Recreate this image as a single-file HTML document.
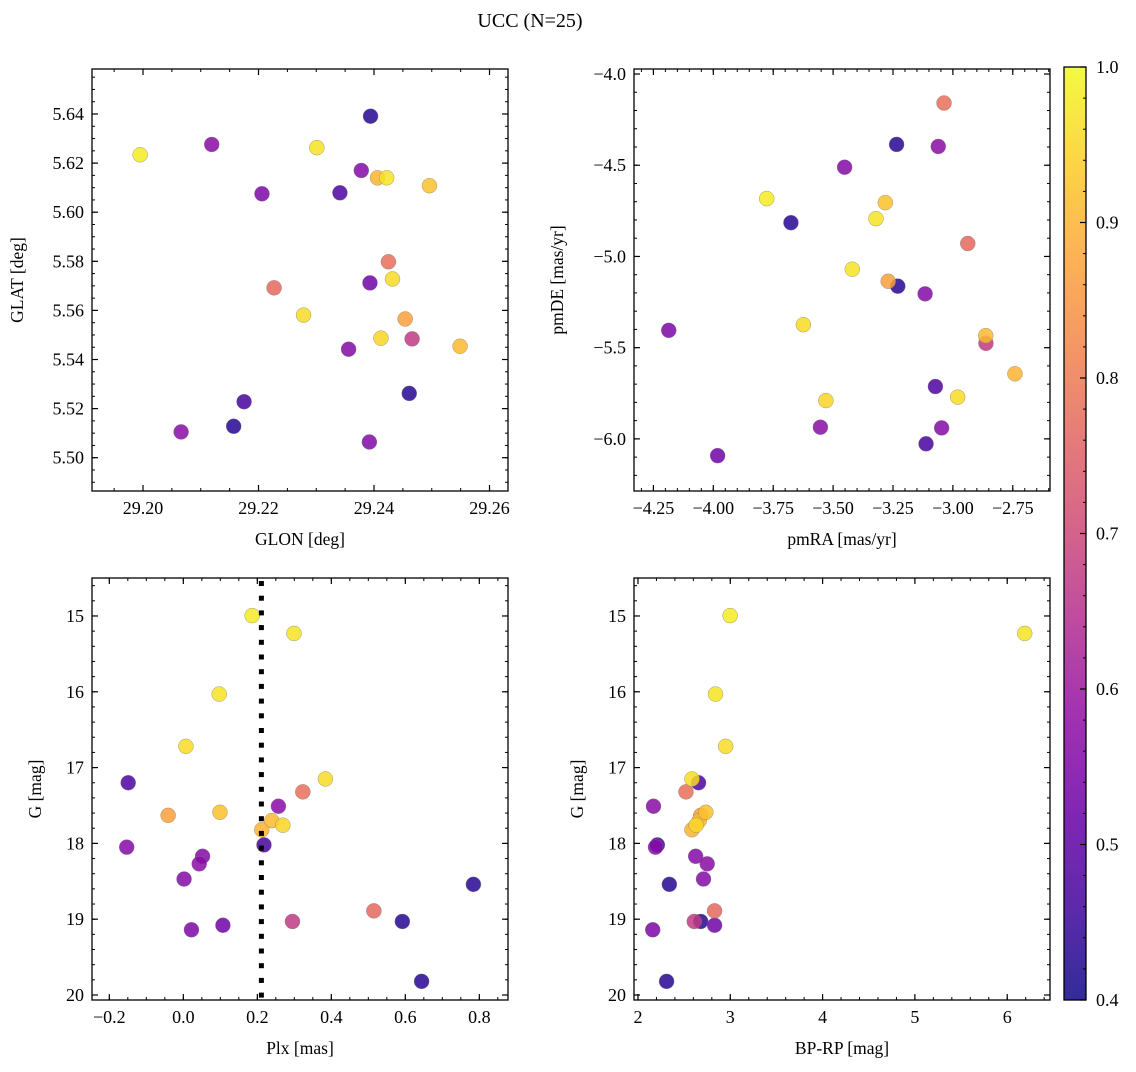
<!DOCTYPE html>
<html><head><meta charset="utf-8"><style>
html,body{margin:0;padding:0;background:#fff;}
svg text{font-family:"Liberation Serif",serif;fill:#000;}
</style></head><body>
<svg id="fig" width="1136" height="1067" viewBox="0 0 1136 1067" xmlns="http://www.w3.org/2000/svg">
<text x="530" y="27" font-size="20" text-anchor="middle">UCC (N=25)</text>
<defs>
<linearGradient id="cbgrad" x1="0" y1="1" x2="0" y2="0"></linearGradient>
</defs>
</svg>
<script>
// ---- data (one entry per star) ----
const glon = [29.1995,29.2301,29.2422,29.2432,29.2278,29.2412,29.2496,29.2549,29.2406,29.2454,29.2425,29.2227,29.2466,29.2119,29.2378,29.2356,29.2066,29.2392,29.2393,29.2206,29.2341,29.2175,29.2394,29.2461,29.2157];
const glat = [5.6234,5.6263,5.6140,5.5728,5.5581,5.5487,5.6108,5.5454,5.6140,5.5565,5.5798,5.5692,5.5484,5.6276,5.6170,5.5442,5.5105,5.5064,5.5712,5.6075,5.6079,5.5228,5.6391,5.5262,5.5128];
const pmra = [-3.777,-3.321,-3.420,-3.624,-2.980,-3.530,-3.282,-2.863,-2.741,-3.270,-3.037,-2.938,-2.862,-3.061,-3.452,-3.116,-3.553,-3.047,-3.982,-4.186,-3.073,-3.112,-3.235,-3.676,-3.230];
const pmde = [-4.683,-4.793,-5.070,-5.374,-5.771,-5.790,-4.705,-5.434,-5.643,-5.136,-4.159,-4.929,-5.476,-4.397,-4.511,-5.205,-5.936,-5.940,-6.092,-5.405,-5.713,-6.027,-4.386,-4.815,-5.163];
const plx = [0.186,0.299,0.097,0.007,0.384,0.269,0.099,0.239,0.212,-0.041,0.323,0.515,0.295,0.257,-0.153,0.052,0.043,0.002,0.107,0.022,-0.149,0.218,0.784,0.592,0.644];
const gmag = [14.995,15.23,16.03,16.72,17.15,17.76,17.59,17.70,17.82,17.63,17.32,18.89,19.03,17.51,18.05,18.17,18.27,18.47,19.08,19.14,17.20,18.02,18.54,19.03,19.82];
const bprp = [2.998,6.19,2.84,2.95,2.585,2.63,2.735,2.663,2.585,2.68,2.52,2.83,2.61,2.168,2.19,2.625,2.75,2.71,2.83,2.16,2.656,2.21,2.34,2.68,2.31];
const prob = [0.98,0.97,0.97,0.96,0.96,0.95,0.92,0.91,0.90,0.87,0.78,0.77,0.67,0.57,0.56,0.56,0.57,0.56,0.53,0.55,0.48,0.47,0.43,0.43,0.43];
const plxMedian = 0.211;
// tick labels
const tlXTicks = [29.20,29.22,29.24,29.26];
const tlYTicks = [5.50,5.52,5.54,5.56,5.58,5.60,5.62,5.64];
const trXTicks = [-4.25,-4.00,-3.75,-3.50,-3.25,-3.00,-2.75];
const trYTicks = [-6.0,-5.5,-5.0,-4.5,-4.0];
const blXTicks = [-0.2,0.0,0.2,0.4,0.6,0.8];
const gTicks = [15,16,17,18,19,20];
const brXTicks = [2,3,4,5,6];
const cbTicks = [0.4,0.5,0.6,0.7,0.8,0.9,1.0];

const NS="http://www.w3.org/2000/svg";
const svg=document.getElementById('fig');
function el(tag,attrs,parent){const e=document.createElementNS(NS,tag);for(const k in attrs)e.setAttribute(k,attrs[k]);(parent||svg).appendChild(e);return e;}

const stops=[[0,'#0d0887'],[0.1,'#41049d'],[0.2,'#6a00a8'],[0.3,'#8f0da4'],[0.4,'#b12a90'],[0.5,'#cc4778'],[0.6,'#e16462'],[0.7,'#f2844b'],[0.8,'#fca636'],[0.9,'#fcce25'],[1,'#f0f921']];
function hex(h){return [1,3,5].map(i=>parseInt(h.substr(i,2),16));}
function plasma(t){t=Math.max(0,Math.min(1,t));for(let i=0;i<stops.length-1;i++){const[a,ca]=stops[i],[b,cb]=stops[i+1];if(t<=b){const f=(t-a)/(b-a),A=hex(ca),B=hex(cb);return 'rgb('+A.map((v,j)=>Math.round(v+(B[j]-v)*f)).join(',')+')';}}return stops[10][1];}
const vmin=0.4,vmax=1.0;
function col(p){return plasma((p-vmin)/(vmax-vmin));}

function fmt(v,d){let s=v.toFixed(d);if(v<0)s='\u2212'+s.slice(1);if(Math.abs(v)<1e-9)s=(0).toFixed(d);return s;}
const FS=18;

function panel(o){
  const g=el('g',{});
  
  
  const X=v=>o.L+(v-o.xd[0])/(o.xd[1]-o.xd[0])*o.W;
  const Y=v=>o.inv? o.T+(v-o.yd[0])/(o.yd[1]-o.yd[0])*o.H : o.T+o.H-(v-o.yd[0])/(o.yd[1]-o.yd[0])*o.H;
  const idx=o.xs.map((_,i)=>i).sort((a,b)=>prob[a]-prob[b]);
  idx.forEach(i=>{const c=el('circle',{cx:X(o.xs[i]),cy:Y(o.ys[i]),r:7.5,fill:col(prob[i]),'fill-opacity':0.85,stroke:'#777','stroke-width':0.5,'stroke-opacity':0.7},g);
    
    });
  if(o.vline!==undefined){
    const lg=el('g',{},g);
    
    
    const lx=X(o.vline);
    for(let y=o.T+3;y<o.T+o.H;y+=14.7){el('rect',{x:lx-2.5,y:y,width:5,height:Math.min(5,o.T+o.H-y),fill:'#000'},lg);}
  }
  const fr=el('rect',{x:o.L,y:o.T,width:o.W,height:o.H,fill:'none',stroke:'#000','stroke-width':1.3},g);
  
  
  const mn=(a,b,s)=>{const r=[];for(let v=Math.ceil(a/s-1e-6)*s;v<=b+1e-9;v+=s)r.push(v);return r;};
  mn(o.xd[0],o.xd[1],o.xm).forEach(v=>{const x=X(v);el('line',{x1:x,x2:x,y1:o.T+o.H,y2:o.T+o.H-3,stroke:'#000','stroke-width':1},g);el('line',{x1:x,x2:x,y1:o.T,y2:o.T+3,stroke:'#000','stroke-width':1},g);});
  mn(Math.min(...o.yd),Math.max(...o.yd),o.ym).forEach(v=>{const y=Y(v);el('line',{x1:o.L,x2:o.L+3,y1:y,y2:y,stroke:'#000','stroke-width':1},g);el('line',{x1:o.L+o.W,x2:o.L+o.W-3,y1:y,y2:y,stroke:'#000','stroke-width':1},g);});
  o.xt.forEach(v=>{const x=X(v);el('line',{x1:x,x2:x,y1:o.T+o.H,y2:o.T+o.H-6,stroke:'#000','stroke-width':1.2},g);el('line',{x1:x,x2:x,y1:o.T,y2:o.T+6,stroke:'#000','stroke-width':1.2},g);
    const t=el('text',{x:x,y:o.T+o.H+23,'font-size':FS,'text-anchor':'middle'},g);t.textContent=fmt(v,o.xdp);
    
    });
  o.yt.forEach(v=>{const y=Y(v);el('line',{x1:o.L,x2:o.L+6,y1:y,y2:y,stroke:'#000','stroke-width':1.2},g);el('line',{x1:o.L+o.W,x2:o.L+o.W-6,y1:y,y2:y,stroke:'#000','stroke-width':1.2},g);
    const t=el('text',{x:o.L-8,y:y+6,'font-size':FS,'text-anchor':'end'},g);t.textContent=fmt(v,o.ydp);
    
    });
  const xl=el('text',{x:o.L+o.W/2,y:o.T+o.H+54,'font-size':17.5,'text-anchor':'middle'},g);xl.textContent=o.xlab;
  
  
  const yl=el('text',{x:0,y:0,'font-size':17.5,'text-anchor':'middle',transform:`translate(${o.ylx},${o.T+o.H/2}) rotate(-90)`},g);yl.textContent=o.ylab;
  
  
}

panel({name:'glon-glat-panel',L:92,T:69,W:416,H:422,xd:[29.19117,29.26320],yd:[5.48644,5.65833],xs:glon,ys:glat,xt:tlXTicks,yt:tlYTicks,xm:0.005,ym:0.005,xdp:2,ydp:2,xlab:'GLON [deg]',ylab:'GLAT [deg]',ylx:23});
panel({name:'pm-panel',L:634,T:69,W:416,H:422,xd:[-4.3310,-2.5947],yd:[-6.2857,-3.9725],xs:pmra,ys:pmde,xt:trXTicks,yt:trYTicks,xm:0.05,ym:0.1,xdp:2,ydp:1,xlab:'pmRA [mas/yr]',ylab:'pmDE [mas/yr]',ylx:563});
panel({name:'plx-g-panel',L:92,T:578,W:416,H:422,xd:[-0.2468,0.8775],yd:[14.499,20.066],inv:true,xs:plx,ys:gmag,xt:blXTicks,yt:gTicks,xm:0.05,ym:0.2,xdp:1,ydp:0,xlab:'Plx [mas]',ylab:'G [mag]',ylx:41,vline:plxMedian});
panel({name:'cmd-panel',L:634,T:578,W:416,H:422,xd:[1.957,6.4636],yd:[14.499,20.066],inv:true,xs:bprp,ys:gmag,xt:brXTicks,yt:gTicks,xm:0.2,ym:0.2,xdp:0,ydp:0,xlab:'BP-RP [mag]',ylab:'G [mag]',ylx:583});

const grad=document.getElementById('cbgrad');
stops.forEach(([t,c])=>el('stop',{offset:t,'stop-color':c},grad));
const cb=el('g',{});


const cbT=67,cbB=1000,cbL=1064,cbW=22;
el('rect',{x:cbL,y:cbT,width:cbW,height:cbB-cbT,fill:'url(#cbgrad)','fill-opacity':0.85,stroke:'#000','stroke-width':1.3},cb);
const CY=v=>cbB-(v-vmin)/(vmax-vmin)*(cbB-cbT);
for(let v=vmin;v<=vmax+1e-9;v+=0.02){const y=CY(v);el('line',{x1:cbL+cbW,x2:cbL+cbW-3,y1:y,y2:y,stroke:'#000','stroke-width':1},cb);}
cbTicks.forEach(v=>{const y=CY(v);el('line',{x1:cbL+cbW,x2:cbL+cbW-6,y1:y,y2:y,stroke:'#000','stroke-width':1.2},cb);
  const t=el('text',{x:cbL+cbW+10,y:y+6,'font-size':FS},cb);t.textContent=v.toFixed(1);
  
  });
</script>
</body></html>
